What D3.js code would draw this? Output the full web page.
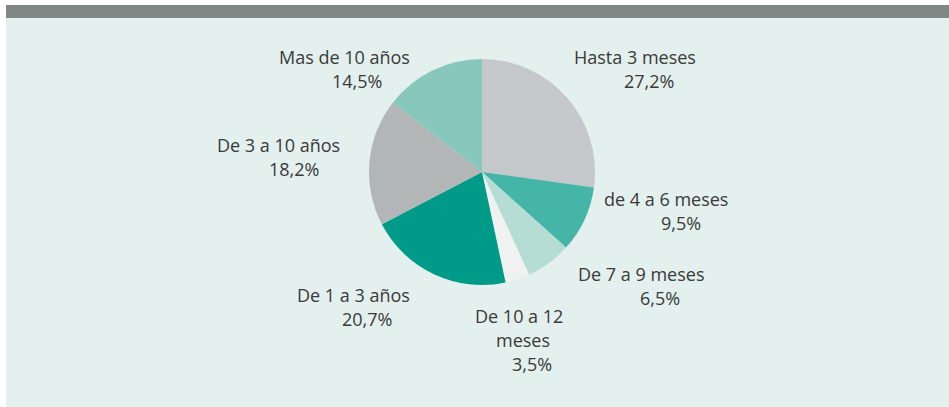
<!DOCTYPE html>
<html lang="es">
<head>
<meta charset="utf-8">
<script src="https://cdn.jsdelivr.net/npm/d3@7/dist/d3.min.js"></script>
<style>
  html, body { margin: 0; padding: 0; background: #ffffff; }
  svg { display: block; }
  text { font-family: "Open Sans", "Noto Sans", sans-serif; }
</style>
</head>
<body>
<svg id="chart" width="949" height="407"></svg>
<script>
// Antigüedad: share of each duration band (%), clockwise from 12 o'clock
const categories = [
  "Hasta 3 meses",
  "de 4 a 6 meses",
  "De 7 a 9 meses",
  "De 10 a 12 meses",
  "De 1 a 3 años",
  "De 3 a 10 años",
  "Mas de 10 años"
];
const shares = [27.2, 9.5, 6.5, 3.5, 20.7, 18.2, 14.5];
const valueLabels = ["27,2%", "9,5%", "6,5%", "3,5%", "20,7%", "18,2%", "14,5%"];

// Label text broken into lines (the percentage goes last)
const labelLines = [
  ["Hasta 3 meses"],
  ["de 4 a 6 meses"],
  ["De 7 a 9 meses"],
  ["De 10 a 12", "meses"],
  ["De 1 a 3 años"],
  ["De 3 a 10 años"],
  ["Mas de 10 años"]
];

const sliceColors = ["#c5c8ca", "#45b5a8", "#b5ddd4", "#f0f2f2", "#009a88", "#b3b6b7", "#88c8bc"];

// Where each label block sits: left x of each line, first baseline
const labelLayout = [
  { y: 64,  xs: [574, 624] },
  { y: 206, xs: [604, 661] },
  { y: 281, xs: [578, 640] },
  { y: 323, xs: [475, 496, 512] },
  { y: 302, xs: [297, 342] },
  { y: 152, xs: [217, 269] },
  { y: 64,  xs: [279, 332] }
];

const W = 949, H = 407;
const cx = 482, cy = 172, R = 113;
const lineGap = 24;

const svg = d3.select("#chart");

// panel background and header band
svg.append("rect").attr("x", 6).attr("y", 5).attr("width", W - 6).attr("height", H - 5)
  .attr("fill", "#e3f0ed");
svg.append("rect").attr("x", 6).attr("y", 5).attr("width", W - 6).attr("height", 13)
  .attr("fill", "#808885");

const data = categories.map((c, i) => ({ cat: c, value: shares[i], i }));

const pie = d3.pie().value(d => d.value).sort(null);
const arc = d3.arc().innerRadius(0).outerRadius(R);

const g = svg.append("g").attr("transform", `translate(${cx},${cy})`);
g.selectAll("path")
  .data(pie(data))
  .join("path")
  .attr("d", arc)
  .attr("fill", d => sliceColors[d.data.i]);

// labels
const labels = svg.append("g").attr("fill", "#3a3a3a").attr("font-size", 18);
data.forEach((d, i) => {
  const lines = labelLines[i].concat([valueLabels[i]]);
  const lay = labelLayout[i];
  lines.forEach((t, k) => {
    labels.append("text")
      .attr("x", lay.xs[k])
      .attr("y", lay.y + k * lineGap)
      .text(t);
  });
});
</script>
</body>
</html>
